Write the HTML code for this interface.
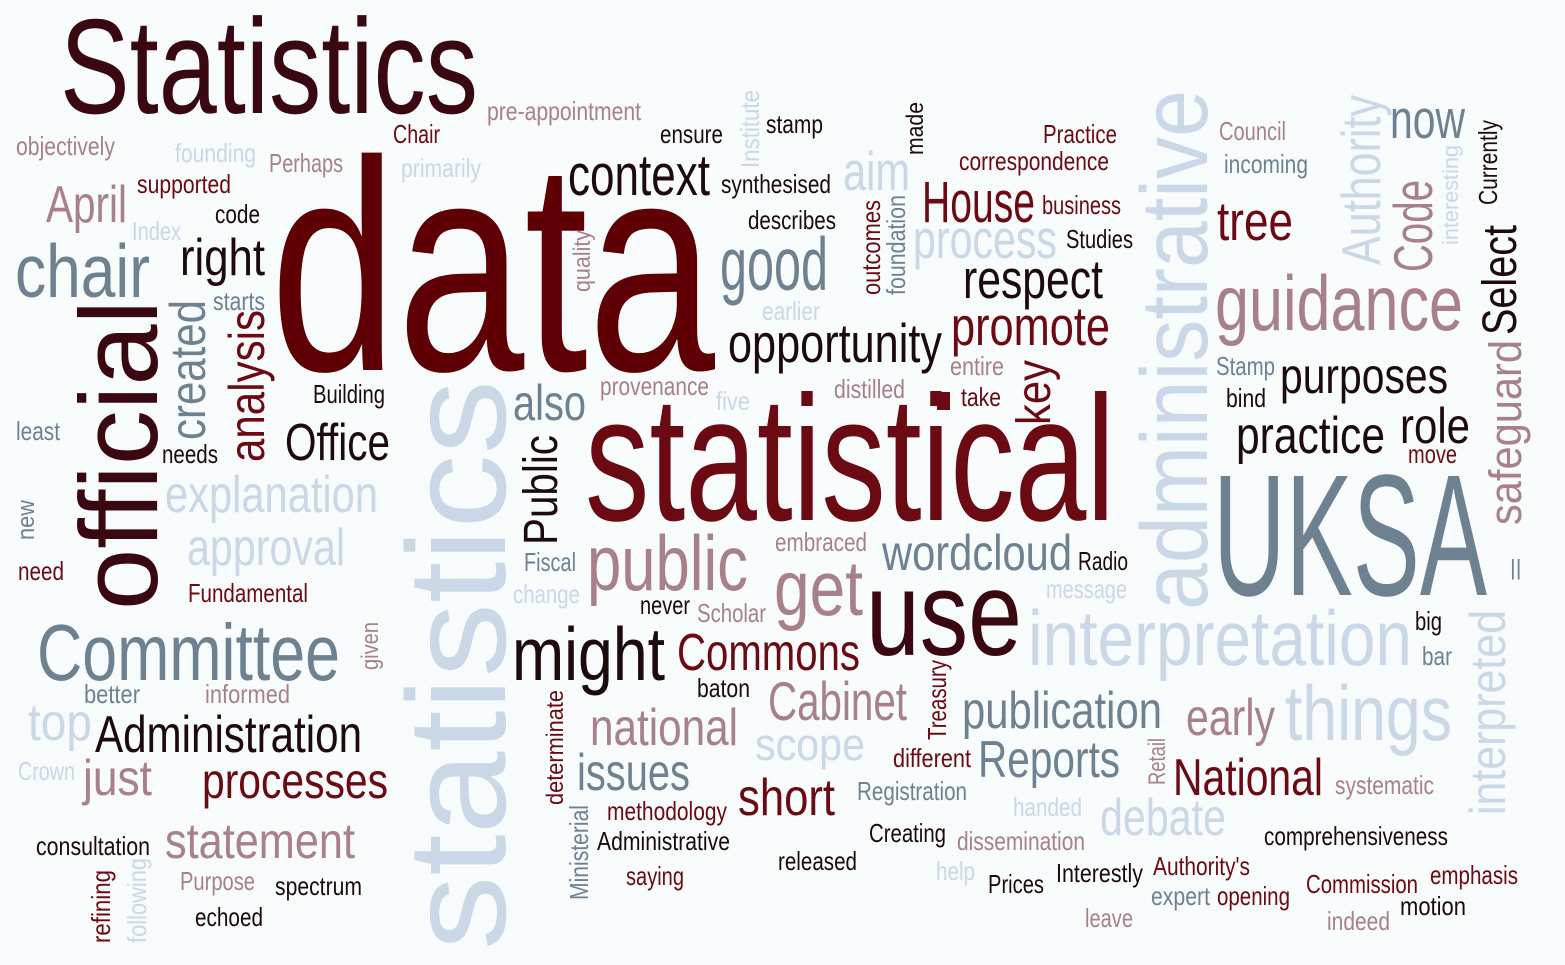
<!DOCTYPE html>
<html>
<head>
<meta charset="utf-8">
<style>
html,body{margin:0;padding:0;background:#f7fbfb;}
svg{display:block;}
text{font-family:"Liberation Sans Narrow","Liberation Sans",sans-serif;}
</style>
</head>
<body>
<svg id="cloud" width="1565" height="965" viewBox="0 0 1565 965" xmlns="http://www.w3.org/2000/svg">
<rect x="0" y="0" width="1565" height="965" fill="#f7fbfb"/>
</svg>
<script>
// color palette keys
const palette = {D:"#1c0a0c", K:"#3a0810", R:"#6b0a12", M:"#a8808a", S:"#6e8191", L:"#c9d7e6", B:"#5e0004"};
// horizontal words: [word, left x, baseline y, width, fontSize, color]
const hWords = [
["Statistics",60,113,418,135,"K"],
["data",270,370,445,300,"B"],
["statistical",585,520,530,178,"R"],
["UKSA",1213,595,274,173,"S"],
["context",568,195,142,58,"D"],
["good",720,290,108,75,"S"],
["aim",843,190,67,55,"L"],
["House",922,222,113,58,"R"],
["process",913,258,144,55,"L"],
["respect",963,298,140,55,"D"],
["promote",951,345,159,55,"R"],
["opportunity",728,362,214,55,"D"],
["tree",1217,240,76,55,"R"],
["guidance",1215,330,248,78,"M"],
["now",1390,138,75,55,"S"],
["purposes",1280,393,168,50,"D"],
["practice",1236,453,149,52,"D"],
["role",1400,443,70,50,"D"],
["chair",15,297,135,75,"S"],
["right",180,275,85,52,"D"],
["April",46,222,81,52,"M"],
["Office",285,460,105,52,"D"],
["explanation",165,512,213,52,"L"],
["approval",187,565,158,52,"L"],
["Committee",37,680,303,80,"S"],
["Administration",95,752,267,52,"D"],
["top",28,740,64,52,"L"],
["just",83,795,69,50,"M"],
["processes",202,798,186,50,"R"],
["statement",165,858,190,50,"M"],
["also",513,420,73,50,"S"],
["public",587,590,161,78,"M"],
["get",774,615,89,78,"M"],
["use",866,655,156,120,"K"],
["wordcloud",882,570,190,50,"S"],
["might",512,680,153,75,"D"],
["Commons",677,670,183,52,"R"],
["interpretation",1028,665,384,78,"L"],
["things",1285,740,167,78,"L"],
["early",1186,735,89,52,"M"],
["National",1173,795,150,52,"R"],
["publication",962,728,200,52,"S"],
["Reports",978,777,142,52,"S"],
["debate",1100,835,126,52,"L"],
["Cabinet",768,720,139,55,"M"],
["scope",755,760,110,45,"L"],
["national",590,745,148,52,"M"],
["issues",577,790,113,52,"S"],
["short",738,815,97,52,"R"],
["objectively",16,155,99,26,"M"],
["founding",175,162,81,26,"L"],
["Perhaps",269,172,74,26,"M"],
["Chair",393,143,47,26,"R"],
["pre-appointment",487,120,154,26,"M"],
["ensure",660,143,63,26,"D"],
["stamp",766,133,57,26,"D"],
["synthesised",721,193,110,26,"D"],
["describes",748,229,88,26,"D"],
["primarily",401,177,80,26,"L"],
["supported",137,193,94,26,"R"],
["code",215,223,45,26,"D"],
["Index",132,240,49,26,"L"],
["starts",213,310,52,26,"S"],
["earlier",762,320,58,26,"L"],
["Building",313,403,72,26,"D"],
["least",16,440,44,26,"S"],
["needs",162,463,56,26,"D"],
["provenance",600,395,109,26,"M"],
["five",716,410,34,26,"L"],
["distilled",834,398,71,26,"M"],
["entire",950,375,54,26,"M"],
["take",961,406,40,26,"R"],
["business",1042,214,79,26,"R"],
["Studies",1066,248,67,26,"D"],
["Practice",1043,143,74,26,"R"],
["correspondence",959,170,150,26,"R"],
["Council",1219,140,67,26,"M"],
["incoming",1224,173,84,26,"S"],
["Stamp",1216,375,59,26,"S"],
["bind",1226,407,40,26,"D"],
["move",1408,463,49,26,"R"],
["embraced",775,551,92,26,"M"],
["Fiscal",524,571,52,26,"S"],
["change",513,603,67,26,"L"],
["never",640,614,50,26,"D"],
["Scholar",697,622,69,26,"M"],
["Radio",1078,570,50,26,"D"],
["message",1046,598,81,26,"L"],
["need",18,580,46,26,"R"],
["Fundamental",188,602,120,26,"R"],
["better",84,703,56,26,"S"],
["informed",205,703,85,26,"M"],
["baton",697,697,53,26,"D"],
["big",1415,630,27,26,"D"],
["bar",1422,665,30,26,"S"],
["Crown",18,780,57,26,"L"],
["different",893,767,78,26,"R"],
["Registration",857,800,110,26,"S"],
["handed",1013,816,69,26,"L"],
["systematic",1335,794,99,26,"M"],
["methodology",607,820,120,26,"R"],
["comprehensiveness",1264,845,184,26,"D"],
["consultation",36,855,114,26,"D"],
["Administrative",597,850,133,26,"D"],
["Creating",869,842,77,26,"D"],
["dissemination",957,850,128,26,"M"],
["released",778,870,79,26,"D"],
["help",936,880,39,26,"L"],
["Purpose",180,890,75,26,"M"],
["spectrum",275,895,87,26,"D"],
["saying",626,885,58,26,"R"],
["Authority's",1153,875,97,26,"R"],
["Interestly",1056,882,87,26,"D"],
["Prices",988,893,56,26,"D"],
["expert",1151,905,59,26,"S"],
["opening",1217,905,73,26,"R"],
["Commission",1306,893,112,26,"R"],
["emphasis",1430,884,88,26,"R"],
["motion",1400,915,66,26,"D"],
["indeed",1327,930,63,26,"M"],
["leave",1085,927,48,26,"M"],
["echoed",195,926,68,26,"D"]
];
// vertical words (read bottom→top): [word, baseline x, bottom y, length, fontSize, color]
const vWords = [
["official",157,610,310,110,"K"],
["statistics",505,950,570,140,"L"],
["administrative",1207,610,520,95,"L"],
["created",205,440,140,50,"S"],
["analysis",264,462,152,50,"R"],
["Public",557,545,110,48,"D"],
["key",1050,425,65,48,"R"],
["Authority",1380,265,170,55,"L"],
["Code",1432,272,92,55,"M"],
["Select",1516,335,110,48,"D"],
["safeguard",1521,525,185,45,"M"],
["interpreted",1505,815,205,50,"L"],
["Currently",1497,205,85,26,"D"],
["interesting",1458,245,100,22,"L"],
["Institute",759,168,78,26,"L"],
["made",923,155,53,24,"D"],
["quality",590,292,62,24,"M"],
["outcomes",880,295,95,26,"R"],
["foundation",905,295,100,26,"S"],
["new",34,540,40,24,"S"],
["given",378,670,48,24,"M"],
["determinate",563,805,115,24,"R"],
["Ministerial",588,900,95,26,"S"],
["Treasury",946,740,80,26,"R"],
["Retail",1165,785,47,24,"M"],
["refining",110,943,73,26,"R"],
["following",146,943,85,26,"L"]
];
const svg = document.getElementById('cloud');
const NS = "http://www.w3.org/2000/svg";
function slug(s){return s.toLowerCase().replace(/[^a-z0-9]+/g,'-').replace(/-+$/,'');}
hWords.forEach(w => {
  const t = document.createElementNS(NS,'text');
  t.setAttribute('x', w[1]);
  t.setAttribute('y', w[2]);
  t.setAttribute('font-size', w[4]);
  t.setAttribute('fill', palette[w[5]]);
  t.setAttribute('textLength', w[3]);
  t.setAttribute('lengthAdjust', 'spacingAndGlyphs');
  t.textContent = w[0];
  
  
  svg.appendChild(t);
});
vWords.forEach(w => {
  const t = document.createElementNS(NS,'text');
  t.setAttribute('x', w[1]);
  t.setAttribute('y', w[2]);
  t.setAttribute('transform', 'rotate(-90 ' + w[1] + ' ' + w[2] + ')');
  t.setAttribute('font-size', w[4]);
  t.setAttribute('fill', palette[w[5]]);
  t.setAttribute('textLength', w[3]);
  t.setAttribute('lengthAdjust', 'spacingAndGlyphs');
  t.textContent = w[0];
  
  
  svg.appendChild(t);
});
const sq = document.createElementNS(NS,'rect');
sq.setAttribute('x',937);sq.setAttribute('y',392);sq.setAttribute('width',13);sq.setAttribute('height',18);sq.setAttribute('fill',palette.R);


svg.appendChild(sq);
const bars = document.createElementNS(NS,'text');
bars.setAttribute('x',1510);bars.setAttribute('y',575);bars.setAttribute('font-size',22);bars.setAttribute('fill',palette.S);
bars.textContent = '||';


svg.appendChild(bars);
</script>
</body>
</html>
